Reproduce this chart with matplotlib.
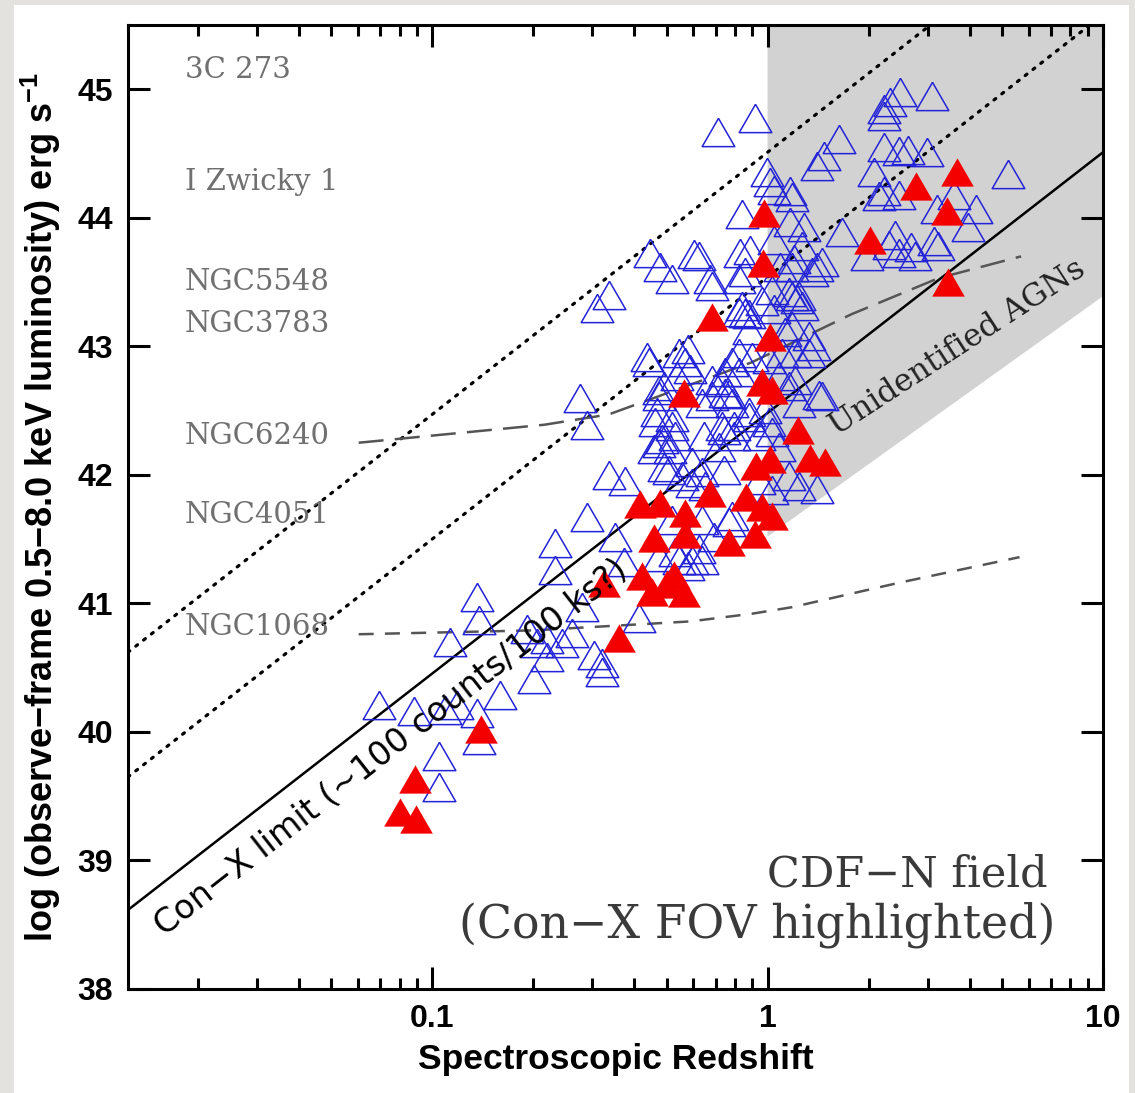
import matplotlib
matplotlib.use('Agg')
import matplotlib.pyplot as plt
from matplotlib.patches import Rectangle

plt.rcParams['mathtext.default'] = 'regular'

# ---- data ----
# open blue triangles: all CDF-N sources with spectroscopic redshift
blue_z = [0.0693, 0.0881, 0.1089, 0.1183, 0.1357, 0.1589, 0.1045, 0.1052, 0.1376,
          0.1357, 0.1376, 0.1128, 0.1913, 0.2050, 0.2195, 0.2432, 0.2605, 0.2195, 0.2007,
          0.2887, 0.2318, 0.2318, 0.2790, 0.3030, 0.3200, 0.3200,
          0.3359, 0.3747, 0.4898, 0.4126, 0.3499, 0.3722, 0.5281, 0.5935,
          0.2752, 0.2887, 0.4449, 0.4765, 0.5174, 0.3359, 0.3092, 0.6016,
          0.4359, 0.4419, 0.5429, 0.5812, 0.5656, 0.4734, 0.4669, 0.5174, 0.4831, 0.5104,
          0.6716, 0.6808, 0.8252, 0.8840, 1.042, 1.179, 1.353, 1.449,
          0.8198, 0.8779, 0.9597, 1.042, 1.179, 1.245, 0.8779, 1.124, 1.204,
          0.5855, 0.5353, 0.7809, 0.8198, 0.8960, 0.7291, 0.7650, 0.6356, 0.6808, 0.4898, 0.4734,
          1.325, 1.419, 1.079, 1.155, 0.4603, 0.5174, 0.5281, 0.4734, 0.4572,
          0.6444, 0.7142, 0.7392, 0.7917, 0.8779, 0.9796, 0.9400, 1.028, 1.079,
          0.5068, 0.5541, 0.5935, 0.6356, 0.7441, 1.237, 1.400,
          0.5174, 0.6356, 0.7809, 0.4734, 0.5428,
          0.7098, 0.9146, 2.231, 2.310, 2.475, 3.082, 2.231, 1.628, 1.478, 1.400,
          2.231, 2.457, 2.631, 2.984, 2.070, 2.231, 2.457, 2.142, 5.215,
          0.9932, 1.014, 1.042, 1.163, 1.179, 0.8365, 1.280, 1.163, 1.662,
          3.190, 3.606, 4.196, 3.960, 2.391, 2.294, 2.686, 3.145, 3.233,
          1.973, 2.457, 2.742, 0.6226, 1.263, 1.400, 1.195, 1.086, 0.8539, 0.8198,
          1.028, 1.155, 1.220, 1.263, 0.8365, 0.8539, 1.179, 1.325, 1.380, 1.101, 1.007,
          0.8198, 0.7443, 0.6808, 1.449, 1.204, 1.237, 0.7809, 0.8779, 1.007, 0.7291,
          0.7443, 0.7965, 0.5935, 0.6494, 0.9400, 1.028, 1.155, 0.6947, 0.7650, 0.6356,
          0.5812, 0.6226]
blue_L = [40.21, 40.16, 40.17, 40.21, 40.15, 40.29, 39.81, 39.57, 39.94,
          41.05, 40.87, 40.70, 40.80, 40.69, 40.72, 40.69, 40.77, 40.58, 40.41,
          41.67, 41.47, 41.26, 40.97, 40.60, 40.54, 40.47,
          42.00, 41.95, 42.06, 40.89, 41.52, 41.32, 41.40, 41.34,
          42.60, 42.39, 43.73, 43.62, 43.52, 43.40, 43.30, 43.72,
          42.92, 42.88, 42.95, 42.98, 42.88, 42.66, 42.49, 42.38, 42.28, 42.20,
          43.52, 43.47, 43.73, 43.75, 43.83, 43.62, 43.58, 43.66,
          43.27, 43.25, 43.35, 43.29, 43.39, 43.39, 43.13, 43.11, 42.95,
          42.82, 42.77, 42.88, 42.80, 42.92, 42.72, 42.63, 42.56, 42.61, 42.69, 42.61,
          42.95, 42.62, 42.77, 42.69, 42.41, 42.45, 42.30, 42.25, 42.20,
          42.30, 42.22, 42.35, 42.30, 42.45, 42.51, 42.30, 42.33, 42.22,
          42.04, 41.99, 42.10, 42.02, 42.04, 41.91, 41.89,
          41.65, 41.65, 41.68, 41.36, 41.34,
          44.67, 44.78, 44.85, 44.90, 44.98, 44.95, 44.79, 44.61, 44.48, 44.40,
          44.55, 44.52, 44.53, 44.51, 44.36, 44.21, 44.18, 44.17, 44.34,
          44.36, 44.28, 44.22, 44.21, 44.16, 44.03, 43.93, 43.97, 43.89,
          44.07, 44.18, 44.07, 43.93, 43.87, 43.79, 43.77, 43.82, 43.78,
          43.70, 43.73, 43.70, 43.70, 43.78, 43.62, 43.68, 43.62, 43.58, 43.52,
          43.44, 43.42, 43.37, 43.31, 43.31, 43.26, 43.16, 43.08, 43.00, 42.95, 42.90,
          42.95, 42.80, 42.74, 42.61, 42.74, 42.56, 42.56, 42.49, 42.41, 42.38,
          42.64, 42.38, 41.94, 41.91, 41.96, 41.88, 41.99, 41.52, 41.63, 41.34,
          41.29, 41.42]

# filled red triangles: sources inside the Con-X field of view
red_z = [0.0887, 0.0800, 0.0893, 0.140, 0.3245, 0.3596,
         0.4153, 0.4765, 0.5656, 0.4572, 0.5675,
         0.4211, 0.4510, 0.500, 0.525, 0.562,
         0.973, 0.966, 0.681, 1.014, 0.960, 1.028,
         2.014, 2.761, 3.683, 3.416, 3.46,
         0.562, 1.236, 1.479, 1.334,
         1.014, 0.926, 0.672, 0.864, 0.960, 1.028, 0.765, 0.915]
red_L = [39.63, 39.38, 39.32, 40.02, 41.16, 40.73,
         41.77, 41.78, 41.70, 41.51, 41.54,
         41.21, 41.09, 41.15, 41.22, 41.08,
         44.04, 43.65, 43.23, 43.07, 42.72, 42.66,
         43.83, 44.25, 44.36, 44.05, 43.50,
         42.64, 42.35, 42.10, 42.13,
         42.12, 42.07, 41.86, 41.83, 41.75, 41.68, 41.48, 41.54]

# Con-X limit and the two dotted flux lines
line_z = [0.0124, 10.0]
limit_L = [38.615, 44.51]
dot_hi_L = [40.62, 46.55]
dot_lo_L = [39.65, 45.58]

# tracks of local AGN (long dash: NGC6240 level, short dash: NGC1068 level)
track_hi_z = [0.0604, 0.216, 0.336, 0.896, 1.78, 3.23, 5.7]
track_hi_L = [42.25, 42.39, 42.47, 42.875, 43.25, 43.53, 43.70]
track_lo_z = [0.0604, 0.2, 0.59, 0.9, 1.18, 2.46, 5.64]
track_lo_L = [40.76, 40.79, 40.86, 40.92, 40.97, 41.16, 41.36]

# shaded "Unidentified AGNs" region
fov_z = [1.0, 10.0, 10.0, 1.0]
fov_L = [45.5, 45.5, 43.39, 41.52]

names = ['3C 273', 'I Zwicky 1', 'NGC5548', 'NGC3783', 'NGC6240', 'NGC4051', 'NGC1068']
name_L = [45.15, 44.28, 43.50, 43.17, 42.30, 41.69, 40.82]

# ---- figure ----
fig = plt.figure(figsize=(11.35, 10.93), dpi=100, facecolor='#e4e2de')
fig.patches.append(Rectangle((14 / 1135, 0), 1115 / 1135, 1088 / 1093,
                             transform=fig.transFigure, facecolor='white',
                             edgecolor='none', zorder=-10))
ax = fig.add_axes([128 / 1135, 104 / 1093, 975 / 1135, 964 / 1093], zorder=5)
ax.set_xscale('log')
ax.set_xlim(0.0124, 10)
ax.set_ylim(38, 45.5)

ax.fill(fov_z, fov_L, color='#d2d2d2', lw=0, zorder=1)

ax.plot(line_z, dot_hi_L, color='black', lw=2.3, dashes=(0.7, 2.4),
        dash_capstyle='round', zorder=2)
ax.plot(line_z, dot_lo_L, color='black', lw=2.3, dashes=(0.7, 2.4),
        dash_capstyle='round', zorder=2)
ax.plot(line_z, limit_L, color='black', lw=1.8, zorder=2)
ax.plot(track_hi_z, track_hi_L, color='#555555', lw=1.8, dashes=(10, 4.5), zorder=2)
ax.plot(track_lo_z, track_lo_L, color='#555555', lw=1.8, dashes=(6, 4.5), zorder=2)

tri = [(0, 0.866), (-1, -0.866), (1, -0.866), (0, 0.866)]
ax.plot(blue_z, blue_L, ls='none', marker=tri, ms=23.5, mfc='none',
        mec='#2323d8', mew=1.1, zorder=3)
ax.plot(red_z, red_L, ls='none', marker=tri, ms=23.5, mfc='#f50000',
        mec='none', mew=0, zorder=4)

# labels of local AGN
for name, lum in zip(names, name_L):
    ax.text(0.0183, lum, name, family='DejaVu Serif', fontsize=21,
            color='#707070', ha='left', va='center', zorder=5)

ax.text(0.0757, 39.88, 'Con\u2212X limit (~100 counts/100 ks?)', family='DejaVu Sans',
        fontsize=24, rotation=38, rotation_mode='anchor', ha='center', va='center',
        zorder=5)
ax.text(3.69, 42.99, 'Unidentified AGNs', family='DejaVu Serif', fontsize=22.5,
        rotation=33, rotation_mode='anchor', ha='center', va='center', color='#222222',
        zorder=5)
ax.text(0.9436, 0.1183, 'CDF\u2212N field', transform=ax.transAxes,
        family='DejaVu Serif', fontsize=31, color='#3a3a3a', ha='right', va='center')
ax.text(0.9508, 0.0664, '(Con\u2212X FOV highlighted)', transform=ax.transAxes,
        family='DejaVu Serif', fontsize=33, color='#3a3a3a', ha='right', va='center')

# axes styling
ax.set_xticks([0.1, 1, 10])
ax.set_xticklabels(['0.1', '1', '10'])
ax.set_yticks(range(38, 46))
ax.tick_params(which='both', direction='in', top=True, right=True, width=2.2)
ax.tick_params(which='major', length=16, pad=11, labelsize=23)
ax.tick_params(which='minor', length=8)
ax.tick_params(axis='y', which='minor', left=False, right=False)
for lab in ax.get_xticklabels() + ax.get_yticklabels():
    lab.set_family('Liberation Sans')
    lab.set_fontweight('bold')
for sp in ax.spines.values():
    sp.set_linewidth(2.2)

ax.set_xlabel('Spectroscopic Redshift', family='Liberation Sans', fontweight='bold',
              fontsize=25.5, labelpad=6)
ax.set_ylabel('log (observe\u2212frame 0.5\u22128.0 keV luminosity) erg s$^{-1}$',
              family='Liberation Sans', fontweight='bold', fontsize=26, labelpad=10)

fig.savefig('out.png', dpi=100, facecolor=fig.get_facecolor())
